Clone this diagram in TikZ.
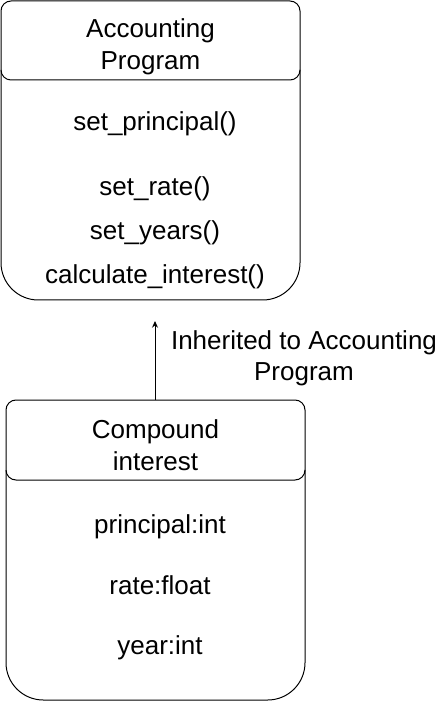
\documentclass[tikz,border=0pt]{standalone}
\usepackage{fontspec}
\setmainfont{Liberation Sans}
\usetikzlibrary{arrows.meta}
\begin{document}
\begin{tikzpicture}[x=0.75pt,y=-0.75pt,
  boxline/.style={draw=black,line width=0.75pt},
  txt/.style={anchor=base,inner sep=0pt,font=\fontsize{19.5pt}{24pt}\selectfont},
  region/.style={draw=none,inner sep=0pt,minimum width=224.25pt,minimum height=224.25pt},
  inh/.style={line width=0.75pt,-{Stealth[length=5pt,width=4.5pt]}}]
\useasboundingbox (0,0) rectangle (441,705);
% region nodes
\node[region] (ap) at (150.5,150.5) {};
\node[region] (ci) at (155.5,550) {};
% Accounting Program box
\draw[boxline,rounded corners=7.5pt] (1,1) rectangle (300,80);
\draw[boxline,rounded corners=28pt] (1,70) -- (1,300) -- (300,300) -- (300,70);
\node[txt] (apt1) at (150.5,38) {Accounting};
\node[txt] (apt2) at (150.5,70) {Program};
\node[txt] (m1) at (155,131) {set\_principal()};
\node[txt] (m2) at (155,196) {set\_rate()};
\node[txt] (m3) at (155,240) {set\_years()};
\node[txt] (m4) at (155,284) {calculate\_interest()};
% Compound interest box
\draw[boxline,rounded corners=7.5pt] (6,400) rectangle (305,480);
\draw[boxline,rounded corners=28pt] (6,470) -- (6,700) -- (305,700) -- (305,470);
\node[txt] (cit1) at (155.5,438) {Compound};
\node[txt] (cit2) at (155.5,470) {interest};
\node[txt] (a1) at (160,533) {principal:int};
\node[txt] (a2) at (160,594) {rate:float};
\node[txt] (a3) at (160,654) {year:int};
% inheritance arrow
\coordinate (tip) at (155,321);
\coordinate (foot) at (155,400);
\draw[inh] (foot) -- (tip);
\node[txt] (l1) at (304,349) {Inherited to Accounting};
\node[txt] (l2) at (304,380) {Program};
\end{tikzpicture}
\end{document}
